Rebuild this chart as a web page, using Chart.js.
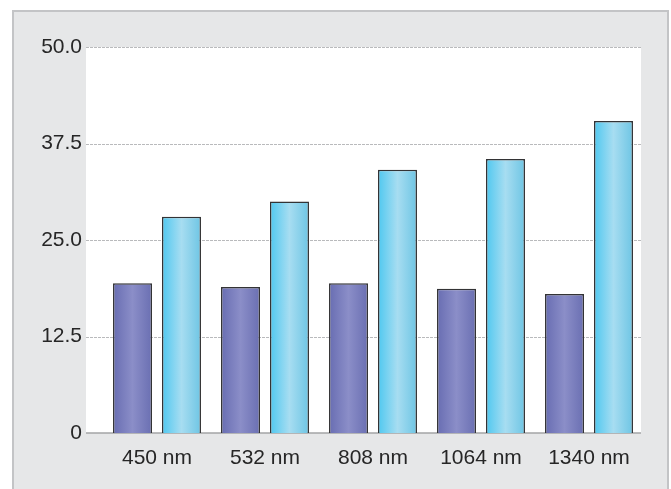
<!DOCTYPE html>
<html>
<head>
<meta charset="utf-8">
<script src="https://cdn.jsdelivr.net/npm/chart.js@4/dist/chart.umd.min.js"></script>
<style>
  body { margin: 0; background: #ffffff; }
  #frame {
    position: absolute; left: 12px; top: 10px; width: 653px; height: 520px;
    background: #e6e7e8; border: 2px solid #c3c4c6;
  }
  #chart { position: absolute; left: 0; top: 0; }
</style>
</head>
<body>
<div id="frame"></div>
<canvas id="chart" width="671" height="489"></canvas>
<script>
// Data
const labels = ['450 nm', '532 nm', '808 nm', '1064 nm', '1340 nm'];
const seriesA = [19.4, 18.9, 19.4, 18.7, 18.0];
const seriesB = [28.0, 30.0, 34.1, 35.5, 40.4];
const yTicks = [0, 12.5, 25, 37.5, 50];

const catPct = 0.907;
const barPct = 0.796;

// Horizontal gradient across one bar, worked out from the x scale
function barGradient(ctx, stops) {
  const chart = ctx.chart;
  const xs = chart.scales.x;
  if (!xs || !chart.chartArea) return stops[1];
  const catW = (chart.chartArea.right - chart.chartArea.left) / labels.length;
  const slot = catW * catPct / 2;
  const w = slot * barPct;
  const cx = xs.getPixelForValue(ctx.dataIndex) + (ctx.datasetIndex === 0 ? -slot / 2 : slot / 2);
  const g = chart.ctx.createLinearGradient(cx - w / 2, 0, cx + w / 2, 0);
  g.addColorStop(0, stops[0]);
  g.addColorStop(0.5, stops[1]);
  g.addColorStop(1, stops[2]);
  return g;
}

// White plot panel, dashed grid and base line
const panelPlugin = {
  id: 'panel',
  beforeDatasetsDraw(chart) {
    const c = chart.ctx;
    const y = chart.scales.y;
    const left = chart.chartArea.left - 17;
    const right = chart.chartArea.right - 2;
    c.save();
    c.fillStyle = '#ffffff';
    c.fillRect(left, y.getPixelForValue(50), right - left, y.getPixelForValue(0) - y.getPixelForValue(50));
    c.strokeStyle = '#b9babc';
    c.lineWidth = 1;
    c.setLineDash([3, 1]);
    yTicks.forEach((t) => {
      if (t === 0) return;
      const py = Math.round(y.getPixelForValue(t)) + 0.5;
      c.beginPath();
      c.moveTo(left, py);
      c.lineTo(right, py);
      c.stroke();
    });
    c.setLineDash([]);
    c.strokeStyle = '#a3a4a6';
    c.lineWidth = 1.5;
    const py0 = y.getPixelForValue(0);
    c.beginPath();
    c.moveTo(left, py0);
    c.lineTo(right, py0);
    c.stroke();
    c.restore();
  }
};

new Chart(document.getElementById('chart'), {
  type: 'bar',
  data: {
    labels: labels,
    datasets: [
      {
        data: seriesA,
        backgroundColor: (ctx) => barGradient(ctx, ['#686db2', '#8b8ec8', '#6a6fb2']),
        borderColor: '#333335',
        borderWidth: 1.5,
        categoryPercentage: catPct,
        barPercentage: barPct,
      },
      {
        data: seriesB,
        backgroundColor: (ctx) => barGradient(ctx, ['#4fc8f0', '#a7ddf1', '#6ec5e4']),
        borderColor: '#333335',
        borderWidth: 1.5,
        categoryPercentage: catPct,
        barPercentage: barPct,
      },
    ],
  },
  options: {
    responsive: false,
    animation: false,
    layout: { padding: { left: 28, right: 28, top: 47, bottom: 0 } },
    plugins: { legend: { display: false }, tooltip: { enabled: false } },
    scales: {
      x: {
        grid: { display: false, drawTicks: false },
        border: { display: false },
        ticks: {
          color: '#262626',
          font: { family: '"Liberation Sans", Arial, sans-serif', size: 21 },
          padding: 13,
          maxRotation: 0,
        },
        afterFit: (scale) => { scale.height = 56; },
      },
      y: {
        min: 0,
        max: 50,
        grid: { display: false, drawTicks: false },
        border: { display: false },
        afterBuildTicks: (scale) => { scale.ticks = yTicks.map((v) => ({ value: v })); },
        ticks: {
          color: '#262626',
          font: { family: '"Liberation Sans", Arial, sans-serif', size: 21 },
          padding: 21,
          callback: (v) => (v === 0 ? '0' : Number(v).toFixed(1)),
        },
        afterFit: (scale) => { scale.width = 75; },
      },
    },
  },
  plugins: [panelPlugin],
});
</script>
</body>
</html>
